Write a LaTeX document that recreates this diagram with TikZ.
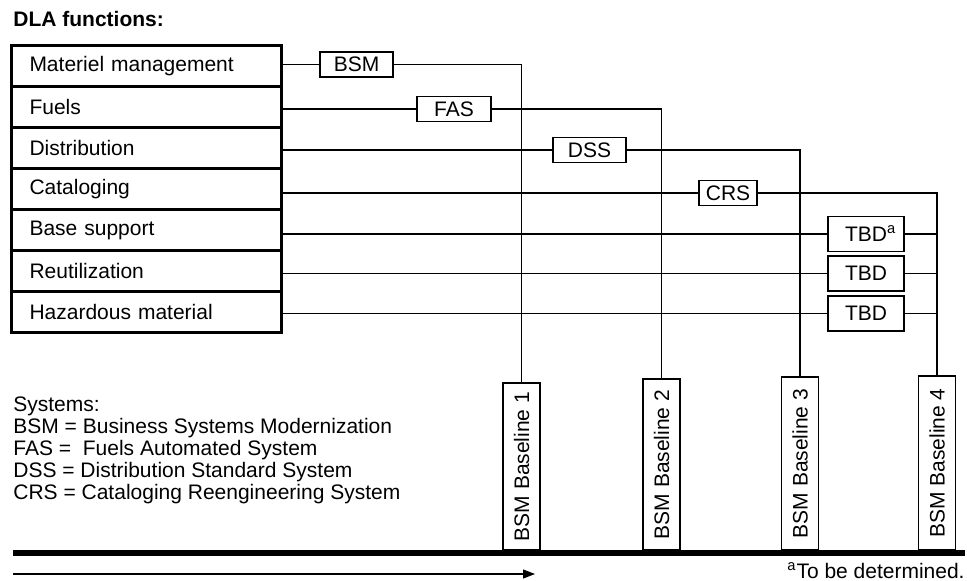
\documentclass[tikz,border=0pt]{standalone}
\usepackage{fontspec}
\setmainfont{Liberation Sans}
\usetikzlibrary{arrows.meta}
\newcommand{\DiagFont}{\fontsize{10.5}{11}\selectfont}

\begin{document}
\begin{tikzpicture}[
	x=0.5pt, y=-0.5pt,
	font=\DiagFont,
	% thick boxes for the DLA functions
	funcbox/.style={draw, line width=1.5pt, anchor=north west, outer sep=0pt,
		text width=117pt, align=left, inner xsep=9pt, inner ysep=0pt, minimum height=20.5pt},
	sysbox/.style={draw, line width=0.6pt, outer sep=0pt, inner sep=0pt, minimum height=12.5pt},
	tbdbox/.style={draw, line width=0.6pt, outer sep=0pt, inner sep=0pt, minimum width=38pt, minimum height=17.5pt},
	basebox/.style={draw, line width=0.6pt, rotate=90, anchor=west, outer sep=0pt, inner sep=0pt, minimum height=18.5pt},
	link/.style={line width=0.6pt}
	]
	\useasboundingbox (0,0) rectangle (967,581);
	\pgfmathsetmacro{\RowHeight}{41}
	\pgfmathsetmacro{\RowTop}{45.5}

	\node[anchor=base west, inner sep=0pt, font=\DiagFont\bfseries] (Title) at (13,27) {DLA functions:};

	\foreach \fname [count=\i] in {Materiel management, Fuels, Distribution, Cataloging, Base support, Reutilization, Hazardous material}
		\node[funcbox] (FuncBox\i) at (11.5, {\RowTop+(\i-1)*\RowHeight}) {\fname};

	% systems on the lines
	\node[sysbox, minimum width=36.5pt] (SysBSM) at (356.5,64.5) {BSM};
	\node[sysbox, minimum width=37pt] (SysFAS) at (454,109) {FAS};
	\node[sysbox, minimum width=36.5pt] (SysDSS) at (589.5,150) {DSS};
	\node[sysbox, minimum width=29pt] (SysCRS) at (728,193) {CRS};
	\node[tbdbox] (SysTBD5) at (866,234) {TBD\rlap{\textsuperscript{a}}};
	\node[tbdbox] (SysTBD6) at (866,273.5) {TBD};
	\node[tbdbox] (SysTBD7) at (866,313.5) {TBD};

	% baselines standing on the time line
	\node[basebox, minimum width=83.5pt] (Baseline1) at (521.5,550) {BSM Baseline 1};
	\node[basebox, minimum width=85.5pt] (Baseline2) at (661.5,550) {BSM Baseline 2};
	\node[basebox, minimum width=86.5pt] (Baseline3) at (800,550) {BSM Baseline 3};
	\node[basebox, minimum width=87pt] (Baseline4) at (937,550) {BSM Baseline 4};

	\draw[link] (FuncBox1.east |- SysBSM) -- (SysBSM);
	\draw[link] (FuncBox2.east |- SysFAS) -- (SysFAS);
	\draw[link] (FuncBox3.east |- SysDSS) -- (SysDSS);
	\draw[link] (FuncBox4.east |- SysCRS) -- (SysCRS);
	\draw[link] (SysBSM) -- (SysBSM -| Baseline1) -- (Baseline1);
	\draw[link] (SysFAS) -- (SysFAS -| Baseline2) -- (Baseline2);
	\draw[link] (SysDSS) -- (SysDSS -| Baseline3) -- (Baseline3);
	\draw[link] (SysCRS) -- (SysCRS -| Baseline4) -- (Baseline4);
	\foreach \j in {5,6,7} {
		\draw[link] (FuncBox\j.east |- SysTBD\j) -- (SysTBD\j);
		\draw[link] (SysTBD\j) -- (SysTBD\j -| Baseline4);
	}

	\node[anchor=base west, align=left, inner sep=0pt] (Legend) at (13,500)
		{Systems:\\BSM = Business Systems Modernization\\FAS =\ \ Fuels Automated System\\DSS = Distribution Standard System\\CRS = Cataloging Reengineering System};

	\coordinate (TimeStart) at (13,553);
	\coordinate (TimeEnd) at (965,553);
	\draw[line width=3pt] (TimeStart) -- (TimeEnd);
	\coordinate (ArrowStart) at (13,574);
	\coordinate (ArrowEnd) at (535,574);
	\draw[link, -{Triangle[length=6pt, width=4.5pt]}] (ArrowStart) -- (ArrowEnd);

	\node[anchor=base east, inner sep=0pt] (Footnote) at (965,578) {\textsuperscript{a}To be determined.};
\end{tikzpicture}
\end{document}
